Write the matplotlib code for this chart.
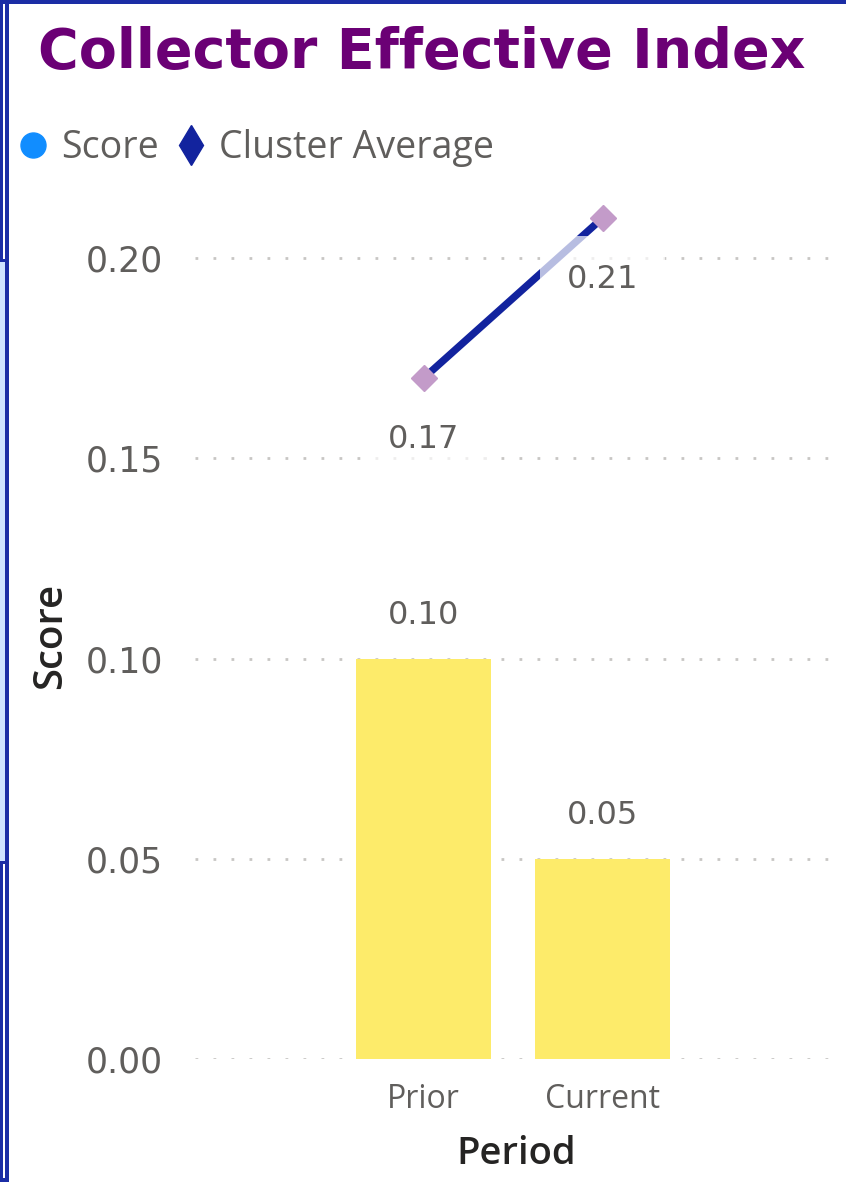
import numpy as np
import matplotlib
matplotlib.use("Agg")
import matplotlib.pyplot as plt
from matplotlib.lines import Line2D
from matplotlib.patches import Rectangle

# ---------------- data ----------------
categories = ["Prior", "Current"]
score = [0.10, 0.05]
cluster_avg = [0.17, 0.21]
yticks = [0.00, 0.05, 0.10, 0.15, 0.20]
ytick_labels = ["0.00", "0.05", "0.10", "0.15", "0.20"]
title = "Collector Effective Index"
legend_labels = ["Score", "Cluster Average"]

# ---------------- style ----------------
W, H = 846, 1182
BAR_COLOR = "#FDEB6A"
LINE_COLOR = "#12239E"
MARKER_COLOR = "#C39BC9"
SCORE_LEG_COLOR = "#118DFF"
TEXT_GRAY = "#605E5C"
DARK = "#252423"
TITLE_COLOR = "#6B0075"
GRID_COLOR = "#C8C6C4"
FRAME_DARK = "#1B2DA5"
FRAME_LIGHT = "#CFE3FF"

fig = plt.figure(figsize=(W / 100, H / 100), dpi=100)
fig.patch.set_facecolor("white")


def fx(px):
    return px / W


def fy(py):
    return 1 - py / H


# frame decorations (report canvas border)
def frame_rect(x0, y0, x1, y1, color):
    fig.patches.append(Rectangle((fx(x0), fy(y1)), fx(x1) - fx(x0), fy(y0) - fy(y1),
                                 transform=fig.transFigure, facecolor=color,
                                 edgecolor="none", zorder=0))


frame_rect(0, 262, 6, 861, FRAME_LIGHT)
frame_rect(0, 259, 6, 262, FRAME_DARK)
frame_rect(0, 861, 6, 864, FRAME_DARK)
frame_rect(0, 0, 3, 259, FRAME_DARK)
frame_rect(0, 864, 3, H, FRAME_DARK)
frame_rect(0, 1178, 9, H, FRAME_DARK)
frame_rect(5, 0, 9, H, FRAME_DARK)
frame_rect(0, 0, W, 4, FRAME_DARK)

# ---------------- axes ----------------
ax_left, ax_right, ax_top, ax_bottom = 195, 830, 198, 1059
ax = fig.add_axes([fx(ax_left), fy(ax_bottom), fx(ax_right) - fx(ax_left),
                   fy(ax_top) - fy(ax_bottom)])
ax.set_facecolor("none")

x = np.arange(len(categories))
ax.bar(x, score, width=0.754, color=BAR_COLOR, zorder=2)
ax.plot(x, cluster_avg, color=LINE_COLOR, lw=5.3, marker="D", ms=13,
        mfc=MARKER_COLOR, mec=MARKER_COLOR, zorder=3, solid_capstyle="butt")

ax.set_xlim(-1.277, 2.271)
ax.set_ylim(0, 0.215)

ax.set_yticks(yticks)
ax.set_yticklabels(ytick_labels)
ax.tick_params(axis="y", length=0, pad=23, labelsize=25, labelcolor=TEXT_GRAY)
ax.set_xticks(x)
ax.set_xticklabels(categories, fontfamily="Open Sans", fontsize=23, color=TEXT_GRAY)
ax.tick_params(axis="x", length=0, pad=17)

ax.yaxis.grid(True, color=GRID_COLOR, lw=2, linestyle=(0, (1, 5.48)), zorder=1)
ax.xaxis.grid(False)
ax.set_axisbelow(True)
for s in ax.spines.values():
    s.set_visible(False)

ax.set_ylabel("Score", fontfamily="Open Sans", fontweight="semibold", fontsize=29, color=DARK)
ax.yaxis.set_label_coords(-0.195, 0.491)
ax.set_xlabel("Period", fontfamily="Open Sans", fontweight="semibold", fontsize=27.5, color=DARK)
ax.xaxis.set_label_coords(0.5055, -0.088)

# data labels
for xi, v in zip(x, score):
    ax.annotate(f"{v:.2f}", (xi, v), xytext=(0, 43), textcoords="offset pixels",
                ha="center", va="center", fontsize=23, color=TEXT_GRAY, zorder=4)
for xi, v in zip(x, cluster_avg):
    ax.annotate(f"{v:.2f}", (xi, v), xytext=(0, -61), textcoords="offset pixels",
                ha="center", va="center", fontsize=23, color=TEXT_GRAY, zorder=4,
                bbox=dict(boxstyle="square,pad=0.85", facecolor="white", alpha=0.7,
                          edgecolor="none"))

# ---------------- title ----------------
fig.text(fx(421.5), fy(68), title, ha="center", va="baseline", fontsize=40,
         fontweight="bold", color=TITLE_COLOR)

# ---------------- legend ----------------
handles = [
    Line2D([], [], linestyle="none", marker="o", ms=18, mfc=SCORE_LEG_COLOR, mec=SCORE_LEG_COLOR),
    Line2D([], [], linestyle="none", marker="d", ms=20, mfc=LINE_COLOR, mec=LINE_COLOR),
]
fig.legend(handles, legend_labels, loc="center left", bbox_to_anchor=(fx(22), fy(148)),
           ncol=2, frameon=False, borderaxespad=0, borderpad=0,
           handlelength=0.6, handletextpad=0.45, columnspacing=0.55,
           prop={"family": "Open Sans", "size": 27}, labelcolor=TEXT_GRAY)

fig.savefig("out.png", dpi=100, facecolor="white")
